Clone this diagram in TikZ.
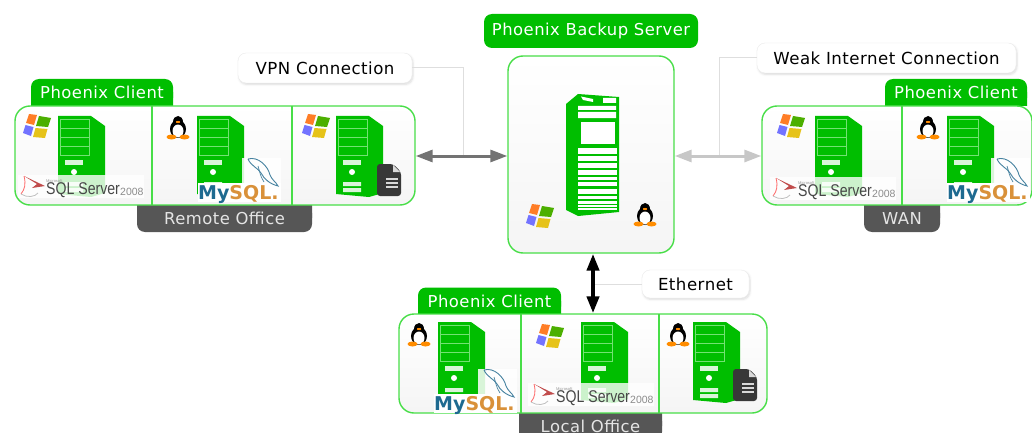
\documentclass[tikz,border=0pt]{standalone}
\usepackage{fontspec}
\setmainfont[LetterSpace=3]{DejaVu Sans}
\newfontfamily\logofont{Liberation Sans}
\newfontfamily\mylogofont{DejaVu Sans}
\usetikzlibrary{arrows.meta, shadows.blur}
\definecolor{phxgreen}{HTML}{00BE00}
\definecolor{phxedge}{HTML}{48DE48}
\definecolor{phxdark}{HTML}{565656}
\definecolor{phxteal}{HTML}{4682A0}
\definecolor{phxblue}{HTML}{1E6A90}
\definecolor{phxorange}{HTML}{D9913A}

\begin{document}
\begin{tikzpicture}
      [x=1pt, y=-1pt,
        officebox/.style={draw=phxedge, line width=1.4pt, rounded corners=15pt, top color=white, bottom color=black!4, inner sep=0},
        greentab/.style={fill=phxgreen, text=white, rounded corners=8pt, inner sep=0, font=\fontsize{16.4}{18}\selectfont},
        darktab/.style={fill=phxdark, text=white!90!black, rounded corners=8pt, inner sep=0, font=\fontsize{16.4}{18}\selectfont},
        callout/.style={draw=black!8, fill=white, rounded corners=8pt, inner sep=0, blur shadow={shadow blur steps=5, shadow xshift=1pt, shadow yshift=-1.5pt, shadow opacity=14}, font=\fontsize{16.6}{18}\selectfont},
        leader/.style={draw=black!13, line width=1pt},
        link/.style={line width=3pt, {Triangle[length=17pt,width=12pt]}-{Triangle[length=17pt,width=12pt]}},
        clientpc/.pic={
          \fill[phxgreen] (0,0) -- (33,0) -- (47,10) -- (47,77) -- (33,81) -- (0,78) -- cycle;
          \foreach \row in {3,12,21,30}
            \draw[green!20!phxgreen!55!white, fill=phxgreen, line width=.9pt] (2,\row) rectangle (31,\row+9);
          \fill[white!85!phxgreen] (7,44) rectangle (25,49);
          \fill[white] (16,56) circle (3pt);
          \fill[white!85!phxgreen] (7,66) rectangle (25,70) (7,72) rectangle (25,76);
        },
        winlogo/.pic={
          \fill[orange!80!red!85!white] (-9,-12) -- (-1,-11) -- (-4,-1) -- (-12,-3) -- cycle;
          \fill[green!55!black!70!yellow] (1,-10) -- (13,-8) -- (10,1) -- (-2,0) -- cycle;
          \fill[blue!55!white] (-12.5,-1) -- (-4.5,1) -- (-7,10) -- (-15,7) -- cycle;
          \fill[yellow!70!orange!90!black] (-2.5,2) -- (9.5,3) -- (7,12) -- (-5,11) -- cycle;
        },
        tuxlogo/.pic={
          \fill[black] (0,1) ellipse (8pt and 9pt) (0,-6) ellipse (5pt and 6pt);
          \fill[white] (0,3) ellipse (5.5pt and 6.5pt);
          \fill[orange!90!yellow] (-6.5,9) ellipse (5pt and 2.5pt) (6.5,9) ellipse (5pt and 2.5pt) (0,-6) ellipse (2.2pt and 1.1pt);
        },
        sqllogo/.pic={
          \fill[white, opacity=.8] (0,0) rectangle (126,23);
          \fill[red!65!black!70!white] (6,1) -- (27,11) -- (14,13) -- (19,9) -- cycle;
          \draw[red!60!white, line width=.8pt] (6,1) .. controls (8,9) and (7,14) .. (3,19);
          \draw[black!25, line width=.8pt] (3,19) .. controls (9,23) and (17,22) .. (20,18);
          \node[inner sep=0, anchor=west, text=black!40, font=\logofont\fontsize{4}{4}\selectfont] (-ms) at (28,6) {Microsoft};
          \node[inner sep=0, anchor=west, text=black!72, font=\logofont\fontsize{17}{17}\selectfont] (-sql) at (28,15.5) {\scalebox{.83}[1]{SQL Server}};
          \node[inner sep=0, anchor=west, text=black!45, font=\logofont\fontsize{10.5}{11}\selectfont] (-year) at (102,17) {2008};
        },
        mysqllogo/.pic={
          \fill[white, opacity=.85] (44,0) rectangle (83,25);
          \fill[white] (0,25) rectangle (83,44);
          \draw[phxteal, line width=.9pt] (50,1) .. controls (60,-2) and (70,8) .. (72,17) .. controls (74,22) and (78,24) .. (80,28) .. controls (72,26) and (66,21) .. (63,15) .. controls (60,10) and (53,8) .. (50,1);
          \draw[phxteal, line width=.7pt] (60,8) .. controls (62,14) and (62,18) .. (66,24);
          \node[inner sep=0, anchor=base west, font=\mylogofont\bfseries\fontsize{19}{19}\selectfont] (-name) at (0,41) {\textcolor{phxblue}{My}\textcolor{phxorange}{SQL.}};
        },
        docicon/.pic={
          \fill[black!78, rounded corners=3pt] (0,0) -- (16,0) -- (24,8) -- (24,32) -- (0,32) -- cycle;
          \fill[white!85!black] (16,1) -- (23,8) -- (16,8) -- cycle;
          \foreach \row in {14,18,22}
            \fill[white!85!black] (9,\row) rectangle (21,\row+1.6);
        }]
      \useasboundingbox (0,0) rectangle (1032,433);
      \clip (0,0) rectangle (1032,433);

      % tabs go first, the boxes sit on them
      \fill[phxgreen] (31,92) rectangle (173,106) (885,92) rectangle (1027,106) (418,301) rectangle (561,314);
      \fill[phxdark] (137,205) rectangle (312,218) (864,205) rectangle (940,218) (519,413) rectangle (662,426);
      \node[greentab, minimum width=142pt, minimum height=27pt] (remoteclient) at (102,92.5) {Phoenix Client};
      \node[darktab, minimum width=175pt, minimum height=27pt] (remotetab) at (224.5,218.5) {Remote Office};
      \node[greentab, minimum width=142pt, minimum height=27pt] (wanclient) at (956,92.5) {Phoenix Client};
      \node[darktab, minimum width=76pt, minimum height=27pt] (wantab) at (902,218.5) {WAN};
      \node[greentab, minimum width=143pt, minimum height=27pt] (localclient) at (489.5,301) {Phoenix Client};
      \node[darktab, minimum width=143pt, minimum height=27pt] (localtab) at (590.5,426.5) {Local Office};

      % the boxes
      \node[officebox, minimum width=400pt, minimum height=99pt] (remote) at (215,155.5) {};
      \node[officebox, minimum width=270pt, minimum height=99pt] (wan) at (897,155.5) {};
      \node[officebox, minimum width=368pt, minimum height=99pt] (local) at (583,363.5) {};
      \node[officebox, minimum width=166pt, minimum height=197pt] (server) at (591,154.5) {};
      \node[greentab, minimum width=214pt, minimum height=34pt] (servertab) at (591,31) {Phoenix Backup Server};

      % dividers
      \draw[phxedge, line width=1.4pt] (152,106) -- (152,205) (292,106) -- (292,205);
      \draw[phxedge, line width=1.4pt] (902,106) -- (902,205);
      \draw[phxedge, line width=1.4pt] (521,314) -- (521,413) (659,314) -- (659,413);

      % remote office
      \pic at (58,116) {clientpc};
      \pic at (38,126) {winlogo};
      \pic (remotesql) at (18,175) {sqllogo};
      \pic at (197,116) {clientpc};
      \pic at (178,128) {tuxlogo};
      \pic (remotemy) at (198,158) {mysqllogo};
      \pic at (336,116) {clientpc};
      \pic at (317,126) {winlogo};
      \pic at (377,164) {docicon};

      % wan
      \pic at (815,116) {clientpc};
      \pic at (792,126) {winlogo};
      \pic (wansql) at (770,177) {sqllogo};
      \pic at (947,116) {clientpc};
      \pic at (928,128) {tuxlogo};
      \pic (wanmy) at (947,158) {mysqllogo};

      % local office
      \pic at (438,322) {clientpc};
      \pic at (419,335) {tuxlogo};
      \pic (localmy) at (434,369) {mysqllogo};
      \pic at (581,322) {clientpc};
      \pic at (551,336) {winlogo};
      \pic (localsql) at (528,383) {sqllogo};
      \pic at (693,322) {clientpc};
      \pic at (678,335) {tuxlogo};
      \pic at (733,369) {docicon};

      % backup server
      \fill[phxgreen] (566,104) -- (578,94) -- (619,97) -- (619,212) -- (578,216) -- (566,210) -- cycle;
      \fill[white] (581,96.5) -- (593,99) -- (593,102) -- (583,100) -- cycle (603,98) rectangle (616,103);
      \fill[white] (578,106) rectangle (616,110) (578,112) rectangle (616,118);
      \fill[white] (581,122) rectangle (615,144);
      \foreach \row/\high in {148/6, 156/5, 163/5, 170/5, 177/3, 182/4, 189/5, 196/3, 201/2.5, 205/2, 208/1.5}
        \fill[white] (578,\row) rectangle (617,\row+\high);
      \pic at (541,216) {winlogo};
      \pic at (645,215) {tuxlogo};

      % callouts and connectors
      \node[callout, minimum width=174pt, minimum height=30pt] (vpn) at (325,68) {VPN Connection};
      \node[callout, minimum width=259pt, minimum height=30pt] (weak) at (886.5,58) {Weak Internet Connection};
      \node[callout, minimum width=107pt, minimum height=28pt] (ethernet) at (695.5,284) {Ethernet};
      \coordinate (vpnjoin) at (463,156);
      \coordinate (weakjoin) at (719,156);
      \coordinate (etherjoin) at (593,284);
      \draw[leader] (vpn.east) -| (vpnjoin);
      \draw[leader] (weak.west) -| (weakjoin);
      \draw[leader] (ethernet.west) -- (etherjoin);
      \draw[link, draw=black!55] (remote.east |- vpnjoin) -- (server.west |- vpnjoin);
      \draw[link, draw=black!22] (server.east |- weakjoin) -- (wan.west |- weakjoin);
      \draw[link, line width=4pt, black] (server.south -| etherjoin) -- (local.north -| etherjoin);
    \end{tikzpicture}
\end{document}
